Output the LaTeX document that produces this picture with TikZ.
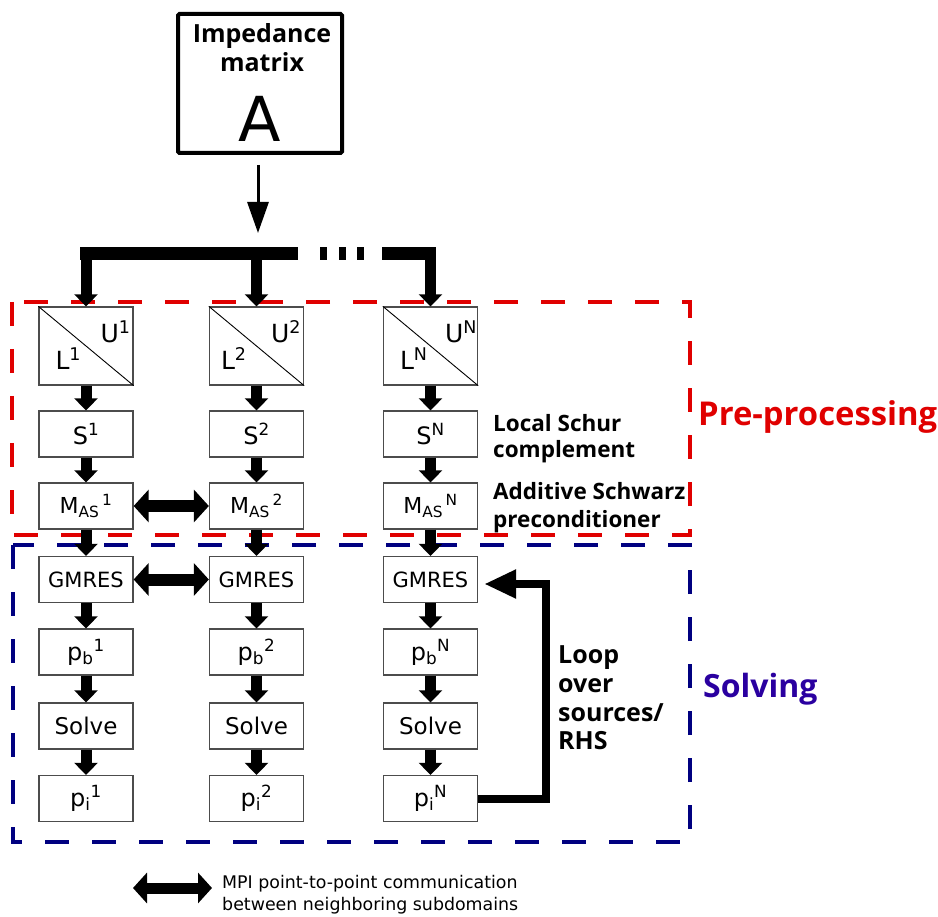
\documentclass[tikz,border=0pt]{standalone}
\usepackage{fontspec}
\setmainfont{DejaVu Sans}
\newfontfamily\headfont{Open Sans}
\usetikzlibrary{arrows.meta,calc}
\definecolor{prered}{RGB}{224,0,0}
\definecolor{solblue}{RGB}{0,0,128}
\definecolor{soltext}{RGB}{42,0,160}
\tikzset{
  box/.style={draw=black!70, line width=1.3pt, minimum width=94pt, minimum height=46pt, inner sep=0pt},
  flow/.style={line width=11pt, -{Triangle[width=23pt,length=12pt]}},
  comm/.style={line width=12pt, {Triangle[width=32pt,length=15pt]}-{Triangle[width=32pt,length=15pt]}},
  lbl/.style={inner sep=0pt, anchor=base west},
  head/.style={inner sep=0pt, anchor=base west, font=\headfont\bfseries\fontsize{22.5}{25}\selectfont},
  loophead/.style={inner sep=0pt, anchor=base west, font=\headfont\bfseries\fontsize{25}{27}\selectfont},
}
\begin{document}
\begin{tikzpicture}[x=1pt,y=-1pt]
\useasboundingbox (0,0) rectangle (938,917);

% dashed region frames
\draw[prered, line width=4pt, dash pattern=on 24pt off 23pt] (12,302) rectangle (690,535);
\draw[solblue, line width=4pt, dash pattern=on 24pt off 23pt] (13,545) rectangle (690,842);

% impedance matrix
\node[draw, line width=4pt, rounded corners=1.5pt, minimum width=164pt, minimum height=139pt, inner sep=0pt] (A) at (260,83.5) {};
\node[inner sep=0pt, anchor=base, font=\headfont\bfseries\fontsize{25}{28}\selectfont] (Atitle1) at (262,43) {Impedance};
\node[inner sep=0pt, anchor=base, font=\headfont\bfseries\fontsize{25}{28}\selectfont] (Atitle2) at (262,72) {matrix};
\node[inner sep=0pt, anchor=base, font=\fontsize{62}{64}\selectfont] (Aletter) at (260,142) {A};

\coordinate (split) at (258,233);
\draw[line width=3pt, -{Triangle[width=21pt,length=31pt]}] ($(A.south -| split)+(0,10)$) -- (split);

% columns
\foreach \i/\cx/\s/\lx in {1/86/1/17, 2/256.5/2/12, 3/430.5/N/17}{
  \node[box, minimum height=78pt] (LU\i) at (\cx,346) {};
  \draw[line width=0.9pt] (LU\i.north west) -- (LU\i.south east);
  \node[lbl, font=\fontsize{25}{27}\selectfont] (U\i) at ($(LU\i.north west)+(62,36)$) {U\textsuperscript{\s}};
  \node[lbl, font=\fontsize{25}{27}\selectfont] (L\i) at ($(LU\i.north west)+(\lx,63)$) {L\textsuperscript{\s}};
  \node[box, font=\fontsize{24}{26}\selectfont] (S\i) at (\cx,434) {S\textsuperscript{\s}};
  \node[box, font=\fontsize{22}{24}\selectfont] (M\i) at (\cx,506) {M\textsubscript{AS}\textsuperscript{\,\s}};
  \node[box, font=\fontsize{21}{23}\selectfont] (G\i) at (\cx,579.5) {GMRES};
  \node[box, font=\fontsize{24}{26}\selectfont] (PB\i) at (\cx,652) {p\textsubscript{b}\textsuperscript{\s}};
  \node[box, font=\fontsize{23}{25}\selectfont] (SV\i) at (\cx,726) {Solve};
  \node[box, font=\fontsize{24}{26}\selectfont] (PI\i) at (\cx,798.5) {p\textsubscript{i}\textsuperscript{\s}};
  \draw[flow] (LU\i.south) -- (S\i.north);
  \draw[flow] (S\i.south) -- (M\i.north);
  \draw[flow] (M\i.south) -- (G\i.north);
  \draw[flow] (G\i.south) -- (PB\i.north);
  \draw[flow] (PB\i.south) -- (SV\i.north);
  \draw[flow] (SV\i.south) -- (PI\i.north);
}

% distribution bar
\coordinate (barL) at (80,253.5);
\coordinate (barR) at (298,253.5);
\coordinate (bar2L) at (382,253.5);
\coordinate (bar2R) at (436,253.5);
\draw[line width=13pt] (barL) -- (barR);
\draw[line width=13pt] (bar2L) -- (bar2R);
\fill (320,247) rectangle (327,260);
\fill (339,247) rectangle (346,260);
\fill (357,247) rectangle (364,260);
\draw[flow] (LU1.north |- barL) -- (LU1.north);
\draw[flow] (LU2.north |- barL) -- (LU2.north);
\draw[flow] (LU3.north |- bar2L) -- (LU3.north);

% communications
\draw[comm] (M1.east) -- (M2.west);
\draw[comm] (G1.east) -- (G2.west);

% loop
\coordinate (loopc) at (546,584);
\draw[line width=8pt, -{Triangle[width=27pt,length=32pt]}, shorten >=6pt] (PI3.east) -| (loopc) -- (G3.east |- loopc);

% side texts
\node[head] (ls1) at (493,432) {Local Schur};
\node[head] (ls2) at (493,457) {complement};
\node[head] (as1) at (493,500) {Additive Schwarz};
\node[head] (as2) at (493,527) {preconditioner};
\node[loophead] (lp1) at (558,663) {Loop};
\node[loophead] (lp2) at (558,692) {over};
\node[loophead] (lp3) at (558,721) {sources/};
\node[loophead] (lp4) at (558,749) {RHS};
\node[inner sep=0pt, anchor=base west, text=prered, font=\headfont\bfseries\fontsize{32.8}{35}\selectfont] (pre) at (698,426) {Pre-processing};
\node[inner sep=0pt, anchor=base west, text=soltext, font=\headfont\bfseries\fontsize{32}{34}\selectfont] (solv) at (703,697) {Solving};

% legend
\coordinate (legL) at (133,888);
\coordinate (legR) at (212,888);
\draw[line width=11pt, {Triangle[width=30pt,length=14pt]}-{Triangle[width=30pt,length=14pt]}] (legL) -- (legR);
\node[inner sep=0pt, anchor=base west, font=\fontsize{17.4}{19}\selectfont] (leg1) at (222,888) {MPI point-to-point communication};
\node[inner sep=0pt, anchor=base west, font=\fontsize{17.4}{19}\selectfont] (leg2) at (222,910) {between neighboring subdomains};
\end{tikzpicture}
\end{document}
